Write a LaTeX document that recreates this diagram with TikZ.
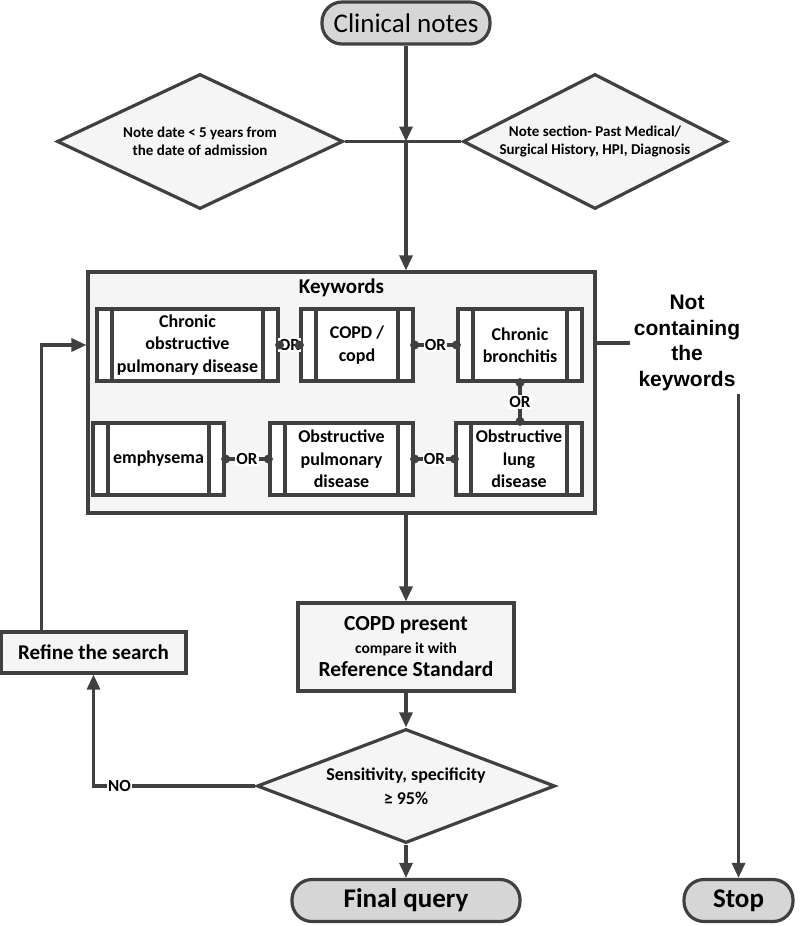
\documentclass[tikz,border=0pt]{standalone}
\usepackage{fontspec}
\setmainfont{Carlito}
\newfontfamily\arialfont{Liberation Sans}
\usetikzlibrary{shapes.geometric,arrows.meta}
\definecolor{linegray}{RGB}{64,64,64}
\definecolor{termfill}{RGB}{214,214,214}
\definecolor{boxfill}{RGB}{245,245,245}

\begin{document}
\begin{tikzpicture}[x=1pt,y=-1pt,
  link/.style={draw=linegray,line width=3.2pt},
  arr/.style={link,-{Triangle[length=15pt,width=13pt]}},
  term/.style={draw=linegray,line width=3.2pt,fill=termfill,rounded corners=20pt,
    minimum height=42pt,font=\fontsize{27}{30}\selectfont\bfseries},
  cond/.style={diamond,draw=linegray,line width=3.2pt,fill=boxfill,align=center,inner sep=0pt},
  procbox/.style={draw=linegray,line width=3.2pt,fill=boxfill,align=center},
  kwitem/.style={procbox,fill=white,minimum height=72pt,inner sep=0pt,
    font=\fontsize{18}{22.5}\selectfont\bfseries,
    path picture={\draw[linegray,line width=3.2pt]
      ([xshift=15pt]path picture bounding box.north west) -- ([xshift=15pt]path picture bounding box.south west)
      ([xshift=-15pt]path picture bounding box.north east) -- ([xshift=-15pt]path picture bounding box.south east);}},
  ortext/.style={fill=white,inner sep=1pt,font=\fontsize{17}{20}\selectfont\bfseries},
  ordot/.style={fill=linegray}
]
\useasboundingbox (0,0) rectangle (800,926);

% top: notes and the two filters
\node[term,minimum width=168pt,font=\fontsize{27}{30}\selectfont] (clin) at (406,23) {Clinical notes};
\node[cond,aspect=2.12,minimum width=286pt,minimum height=135pt,font=\fontsize{15}{18}\selectfont\bfseries]
  (age) at (200,141.5) {Note date < 5 years from\\the date of admission};
\node[cond,aspect=1.96,minimum width=264pt,minimum height=135pt,font=\fontsize{15}{18}\selectfont\bfseries]
  (section) at (595,141.5) {Note section- Past Medical/\\Surgical History, HPI, Diagnosis};
\coordinate (jn) at (406,141.5);

% keyword frame
\node[procbox,minimum width=507pt,minimum height=241pt] (kw) at (341.5,392.5) {};
\node[font=\fontsize{21}{24}\selectfont\bfseries] (kwtitle) at (341.5,288) {Keywords};
\node[kwitem,minimum width=181pt] (copdfull) at (187.5,345) {Chronic\\obstructive\\pulmonary disease};
\node[kwitem,minimum width=112pt] (copdabbr) at (357,345) {COPD /\\copd};
\node[kwitem,minimum width=124pt] (bronch) at (520,345) {Chronic\\bronchitis};
\node[kwitem,minimum width=131pt] (emph) at (158.5,459) {emphysema};
\node[kwitem,minimum width=143pt] (obpulm) at (341.5,459) {Obstructive\\pulmonary\\disease};
\node[kwitem,minimum width=126pt] (oblung) at (519,459) {Obstructive\\lung\\disease};

\foreach \a/\b in {copdfull/copdabbr,copdabbr/bronch,emph/obpulm,obpulm/oblung} {
  \draw[link] (\a.east) -- node[ortext] {OR} (\b.west);
  \fill[ordot] (\a.east) circle (4.5pt) (\b.west) circle (4.5pt);
}
\draw[link] (bronch.south) -- node[ortext] {OR} (bronch.south |- oblung.north);
\fill[ordot] (bronch.south) circle (4.5pt) (bronch.south |- oblung.north) circle (4.5pt);

\node[font=\arialfont\bfseries\fontsize{21}{25.5}\selectfont,align=center] (notkw) at (687,343)
  {Not\\containing\\the\\keywords};

% lower part
\node[procbox,minimum width=216pt,minimum height=88pt,font=\fontsize{21.5}{23}\selectfont\bfseries]
  (copd) at (406,647) {COPD present\\{\fontsize{15.5}{23}\selectfont compare it with}\\Reference Standard};
\node[cond,aspect=2.6,minimum width=298pt,minimum height=114pt,font=\fontsize{18}{24}\selectfont\bfseries]
  (sens) at (406,786) {Sensitivity, specificity\\≥ 95\%};
\node[procbox,minimum width=185pt,minimum height=41pt,font=\fontsize{21}{24}\selectfont\bfseries]
  (refine) at (93.5,652.5) {Refine the search};
\node[term,minimum width=228pt] (final) at (406,900.5) {Final query};
\node[term,minimum width=109pt] (stop) at (738.5,900.5) {Stop};

% connectors
\draw[arr] (clin) -- (jn);
\draw[link] (age.east) -- (section.west);
\draw[arr] (jn) -- (jn |- kw.north);
\draw[arr] (copd |- kw.south) -- (copd.north);
\draw[arr] (copd) -- (sens);
\draw[arr] (sens) -- (final);
\draw[arr] (sens.west) -- node[pos=0.84,ortext] {NO} (refine.south |- sens.west) -- (refine.south);
\draw[arr] ([xshift=42pt]refine.north west) |- (kw.west |- copdfull.west);
\draw[link] (kw.east |- notkw.west) -- (notkw.west);
\draw[arr] (stop |- notkw.south) -- (stop.north);
\end{tikzpicture}
\end{document}
